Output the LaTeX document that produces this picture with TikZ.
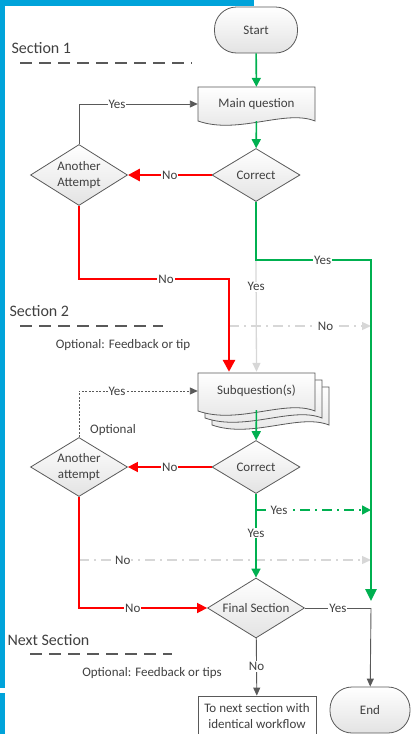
\documentclass[tikz,border=0pt]{standalone}
\usepackage{fontspec}
\setmainfont{Carlito}
\usetikzlibrary{arrows.meta,shapes.geometric}

\definecolor{frameblue}{RGB}{0,163,218}
\definecolor{okgreen}{RGB}{0,176,80}
\definecolor{badred}{RGB}{255,0,0}
\definecolor{linegray}{RGB}{89,89,89}
\definecolor{palegray}{RGB}{215,215,215}
\definecolor{txtgray}{RGB}{64,64,64}

\begin{document}
\begin{tikzpicture}[x=1pt,y=-1pt,
	every node/.style={font=\fontsize{13}{16}\selectfont, text=txtgray},
	shapefill/.style={draw=linegray, line width=0.8pt, top color=white, bottom color=gray!22},
	terminal/.style={shapefill, rectangle, rounded corners=22pt, minimum width=83pt, minimum height=46pt},
	decision/.style={shapefill, diamond, aspect=1.7, inner sep=0pt, align=center, minimum width=88pt, minimum height=53pt},
	wording/.style={fill=white, inner sep=1pt},
	heading/.style={anchor=west, font=\fontsize{16}{18}\selectfont},
	secline/.style={draw=linegray, line width=1.1pt, dash pattern=on 12pt off 7pt},
	skipdash/.style={dash pattern=on 10pt off 5pt on 2pt off 5pt},
	plainline/.style={draw=linegray, line width=0.9pt},
	plainflow/.style={plainline, -{Triangle[length=8pt,width=7pt]}},
	paleflow/.style={draw=palegray, line width=1.3pt, -{Triangle[length=9pt,width=8pt]}},
	okflow/.style={draw=okgreen, line width=1.6pt, -{Triangle[length=9pt,width=9pt]}},
	okthick/.style={draw=okgreen, line width=2.6pt, -{Triangle[length=12pt,width=11pt]}},
	badflow/.style={draw=badred, line width=2.8pt, -{Triangle[length=12pt,width=12pt]}},
	badthin/.style={draw=badred, line width=1.6pt, -{Triangle[length=10pt,width=10pt]}}]
	\useasboundingbox (0,0) rectangle (410,734);

	% frame
	\fill[frameblue] (0,0) rectangle (5,734);
	\fill[frameblue] (0,0) rectangle (254,6);
	\fill[white] (0,688) rectangle (5,693);

	% sections
	\node[heading] (sec1) at (8,48) {Section 1};
	\draw[secline] (20,63) -- (192,63);
	\node[heading] (sec2) at (6,311) {Section 2};
	\draw[secline] (20,326) -- (163,326);
	\node (tip2) at (123,345) {Optional: Feedback or tip};
	\node[heading] (sec3) at (4,640) {Next Section};
	\draw[secline] (30,654) -- (172,654);
	\node (tip3) at (152,673) {Optional: Feedback or tips};

	% shapes
	\node[terminal] (start) at (256,30) {Start};
	\draw[shapefill] (198,87) -- ++(117,0) -- ++(0,34) .. controls +(-30,-12) and +(40,14) .. ++(-117,0) -- cycle;
	\node[minimum width=117pt, minimum height=34pt] (mainq) at (256.5,104) {Main question};
	\node[decision] (corr1) at (256,175) {Correct};
	\node[decision, minimum width=97pt, minimum height=61pt] (att1) at (79,175) {Another\\Attempt};

	\foreach \d in {14,7,0}
		\draw[shapefill] (198+\d,373+\d) -- ++(117,0) -- ++(0,38) .. controls +(-30,-12) and +(40,14) .. ++(-117,0) -- cycle;
	\node[minimum width=117pt, minimum height=38pt] (subq) at (256.5,391) {Subquestion(s)};
	\node[decision] (corr2) at (256,467) {Correct};
	\node[decision, minimum width=97pt, minimum height=59pt] (att2) at (79,467) {Another\\attempt};
	\node (optnote) at (113,430) {Optional};

	\node[decision, minimum width=97pt, minimum height=60pt] (fin) at (256,608) {Final Section};
	\node[draw=linegray, line width=0.8pt, fill=white, align=center, inner sep=1pt, minimum width=118pt, minimum height=40pt] (nextsec) at (257,716) {To next section with\\identical workflow};
	\node[terminal, minimum width=80pt] (finish) at (370,710) {End};

	\coordinate (redturn) at (229,279);
	\coordinate (greenturn) at (371,260);
	\coordinate (greenend) at (371,601);
	\coordinate (skipa) at (229,326);
	\coordinate (skipb) at (79,560);
	\coordinate (skipc) at (256,510);
	\coordinate (endjoin) at (fin.east -| greenturn);

	% pale skips
	\draw[paleflow] (corr1.south |- greenturn) -- node[wording,pos=0.24]{Yes} (subq.north);
	\draw[paleflow, skipdash] (skipa) -- node[wording,pos=0.68]{No} (skipa -| greenturn);
	\draw[paleflow, skipdash] (skipb) -- node[wording,pos=0.15]{No} (skipb -| greenturn);

	% section 1
	\draw[okflow] (start) -- (mainq);
	\draw[okflow] (mainq) -- (corr1);
	\draw[badflow] (corr1) -- node[wording]{No} (att1);
	\draw[plainflow] (att1.north) |- node[wording,pos=0.66]{Yes} (mainq.west);
	\draw[badflow] (att1.south) |- node[wording,pos=0.79]{No} (redturn) -- (redturn |- subq.north);
	\draw[okthick] (corr1.south) |- node[wording,pos=0.79]{Yes} (greenturn) -- (greenend);

	% section 2
	\draw[okflow] (subq) -- (corr2);
	\draw[badthin] (corr2) -- node[wording]{No} (att2);
	\draw[plainflow, dash pattern=on 2pt off 1.5pt] (att2.north) |- node[wording,pos=0.66]{Yes} (subq.west);
	\draw[badthin] (att2.south) |- node[wording,pos=0.71]{No} (fin.west);
	\draw[okflow] (corr2) -- node[wording,pos=0.47]{Yes} (fin);
	\draw[okflow, skipdash] (skipc) -- node[wording,pos=0.2]{Yes} (skipc -| greenturn);

	% end
	\draw[plainline] (fin.east) -- node[wording]{Yes} (endjoin);
	\draw[plainflow] (endjoin) -- (finish);
	\draw[plainflow] (fin) -- node[wording,pos=0.49]{No} (nextsec);
\end{tikzpicture}
\end{document}
